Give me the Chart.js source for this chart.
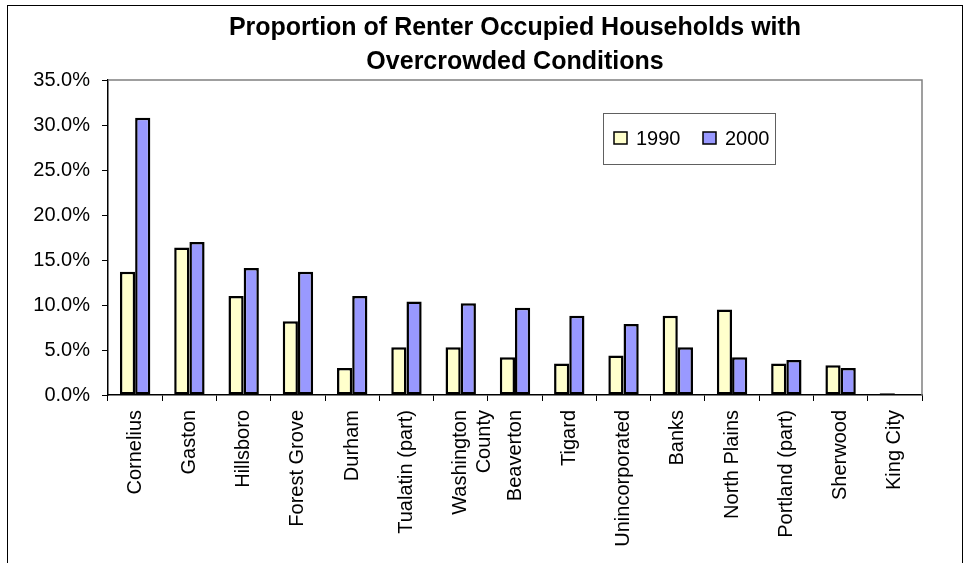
<!DOCTYPE html>
<html>
<head>
<meta charset="utf-8">
<script src="https://cdn.jsdelivr.net/npm/chart.js@4.4.0/dist/chart.umd.min.js"></script>
<style>
    body { margin: 0; background: #ffffff; }
    #wrap { width: 969px; height: 563px; position: relative; }
</style>
</head>
<body>
<div id="wrap"><canvas id="chart"></canvas></div>
<script>
const places = [
    "Cornelius", "Gaston", "Hillsboro", "Forest Grove", "Durham",
    "Tualatin (part)", ["Washington", "County"], "Beaverton", "Tigard",
    "Unincorporated", "Banks", "North Plains", "Portland (part)",
    "Sherwood", "King City"
];

const values1990 = [13.7, 16.4, 11.0, 8.2, 3.0, 5.3, 5.3, 4.2, 3.5, 4.4, 8.8, 9.5, 3.5, 3.3, 0.2];
const values2000 = [30.8, 17.0, 14.1, 13.7, 11.0, 10.4, 10.2, 9.7, 8.8, 7.9, 5.3, 4.2, 3.9, 3.0, 0.0];

const seriesNames = ["1990", "2000"];
const yTicks = [0, 5, 10, 15, 20, 25, 30, 35];

const fontFamily = "'Liberation Sans', Arial, sans-serif";
const yellow = "#FFFFCC";
const blue = "#9999FF";

// frame, gray plot border and the boxed legend inside the plot
const decorations = {
    id: "decorations",
    beforeDraw(chart) {
        const ctx = chart.ctx;
        ctx.save();
        ctx.fillStyle = "#ffffff";
        ctx.fillRect(0, 0, chart.width, chart.height);
        ctx.strokeStyle = "#000000";
        ctx.lineWidth = 1;
        ctx.strokeRect(7.5, 5.5, 955, 620);
        ctx.restore();
    },
    afterDatasetsDraw(chart) {
        const ctx = chart.ctx;
        const a = chart.chartArea;
        ctx.save();

        ctx.strokeStyle = "#808080";
        ctx.lineWidth = 1.5;
        ctx.beginPath();
        ctx.moveTo(a.left, a.top);
        ctx.lineTo(a.right, a.top);
        ctx.lineTo(a.right, a.bottom);
        ctx.stroke();

        const lx = a.right - 319;
        const ly = a.top + 33;
        ctx.strokeStyle = "#606060";
        ctx.lineWidth = 1;
        ctx.fillStyle = "#ffffff";
        ctx.fillRect(lx, ly, 172, 51);
        ctx.strokeRect(lx + 0.5, ly + 0.5, 172, 51);

        ctx.font = "20px " + fontFamily;
        ctx.textBaseline = "middle";
        const fills = [yellow, blue];
        const offsets = [11, 100];
        seriesNames.forEach((name, i) => {
            const sx = lx + offsets[i];
            ctx.fillStyle = fills[i];
            ctx.fillRect(sx, ly + 19, 13, 12);
            ctx.strokeStyle = "#000000";
            ctx.lineWidth = 1.5;
            ctx.strokeRect(sx, ly + 19, 13, 12);
            ctx.fillStyle = "#000000";
            ctx.fillText(name, sx + 22, ly + 26);
        });

        ctx.restore();
    }
};

new Chart(document.getElementById("chart"), {
    type: "bar",
    data: {
        labels: places,
        datasets: [
            {
                label: seriesNames[0],
                data: values1990,
                backgroundColor: yellow,
                borderColor: "#000000",
                borderWidth: 2.5,
                borderSkipped: false
            },
            {
                label: seriesNames[1],
                data: values2000,
                backgroundColor: blue,
                borderColor: "#000000",
                borderWidth: 2.5,
                borderSkipped: false
            }
        ]
    },
    options: {
        responsive: true,
        maintainAspectRatio: false,
        animation: false,
        events: [],
        layout: {
            padding: { left: 8, right: 47, top: 0, bottom: 0 }
        },
        datasets: {
            bar: {
                categoryPercentage: 0.56,
                barPercentage: 1.0
            }
        },
        plugins: {
            legend: { display: false },
            tooltip: { enabled: false },
            title: {
                display: true,
                fullSize: false, // centre the title over the plot, not the whole canvas
                text: ["Proportion of Renter Occupied Households with", "Overcrowded Conditions"],
                color: "#000000",
                font: { family: fontFamily, size: 25, weight: "bold", lineHeight: 1.36 },
                padding: { top: 11, bottom: 1 }
            }
        },
        scales: {
            x: {
                grid: {
                    offset: true,
                    drawOnChartArea: false,
                    drawTicks: true,
                    tickLength: 6,
                    color: "#000000"
                },
                border: { color: "#000000", width: 1.5 },
                ticks: {
                    autoSkip: false,
                    minRotation: 90,
                    maxRotation: 90,
                    padding: 9,
                    color: "#000000",
                    font: { family: fontFamily, size: 20 }
                },
                afterFit(scale) {
                    scale.height = 168;
                }
            },
            y: {
                min: 0,
                max: 35,
                afterBuildTicks(scale) {
                    scale.ticks = yTicks.map(v => ({ value: v }));
                },
                grid: {
                    drawOnChartArea: false,
                    drawTicks: true,
                    tickLength: 6,
                    color: "#000000"
                },
                border: { color: "#000000", width: 1.5 },
                ticks: {
                    padding: 12,
                    color: "#000000",
                    font: { family: fontFamily, size: 20 },
                    callback: v => v.toFixed(1) + "%"
                },
                afterFit(scale) {
                    scale.width = 100;
                }
            }
        }
    },
    plugins: [decorations]
});
</script>
</body>
</html>
